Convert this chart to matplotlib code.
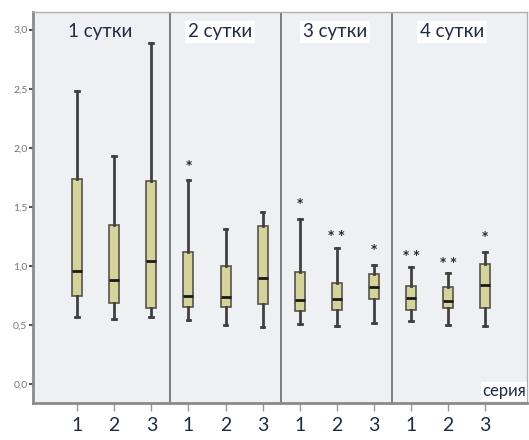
import matplotlib.pyplot as plt
import numpy as np

plt.rcParams['font.family'] = ['Lato', 'DejaVu Sans']

# день 1..4, серия 1..3
series = ['1', '2', '3'] * 4
days = ['1 сутки', '2 сутки', '3 сутки', '4 сутки']
whislo = [0.57, 0.55, 0.57, 0.54, 0.50, 0.48, 0.51, 0.49, 0.52, 0.53, 0.50, 0.49]
q1 = [0.75, 0.69, 0.64, 0.65, 0.65, 0.68, 0.62, 0.63, 0.72, 0.63, 0.64, 0.64]
med = [0.96, 0.88, 1.04, 0.75, 0.74, 0.90, 0.71, 0.72, 0.82, 0.73, 0.70, 0.84]
q3 = [1.74, 1.35, 1.72, 1.12, 1.00, 1.34, 0.95, 0.86, 0.93, 0.83, 0.82, 1.02]
whishi = [2.48, 1.93, 2.89, 1.73, 1.31, 1.46, 1.40, 1.15, 1.01, 0.99, 0.94, 1.12]
outlier_val = [None, None, None, 1.85, None, None, 1.53, 1.26, 1.14, 1.09, 1.03, 1.25]
outlier_cnt = [0, 0, 0, 1, 0, 0, 1, 2, 1, 2, 2, 1]

fig = plt.figure(figsize=(5.29, 4.40), dpi=100)
ax = fig.add_axes([0.0624, 0.084, 0.934, 0.889])
ax.set_facecolor('#eff0f3')

stats = []
for i in range(12):
    stats.append(dict(whislo=whislo[i], q1=q1[i], med=med[i], q3=q3[i],
                      whishi=whishi[i], fliers=[]))
pos = np.arange(1, 13)
ax.bxp(stats, positions=pos, widths=0.27, patch_artist=True, showfliers=False,
       boxprops=dict(facecolor='#d6d29c', edgecolor='#555548', linewidth=1.2),
       medianprops=dict(color='#1a1a1a', linewidth=2),
       whiskerprops=dict(color='#404040', linewidth=2),
       capprops=dict(color='#404040', linewidth=2), capwidths=0.1)

for i in range(12):
    if outlier_cnt[i]:
        ax.text(pos[i], outlier_val[i], ' '.join(['*'] * outlier_cnt[i]),
                ha='center', va='center', fontsize=8.5, color='#2a2a2a',
                family='DejaVu Sans', fontweight='bold')

for xd in [3.5, 6.5, 9.5]:
    ax.axvline(xd, color='#6a6a6a', linewidth=1.2)

title_x = [1.62, 4.85, 7.95, 11.1]
for k, d in enumerate(days):
    bb = None if k == 0 else dict(facecolor='white', edgecolor='none', pad=2)
    ax.text(title_x[k], 2.98, d, ha='center', va='center', fontsize=13.5,
            color='#1f2a44', bbox=bb)

ax.text(13.1, -0.06, 'серия', ha='right', va='center', fontsize=12,
        color='#1f2a44', bbox=dict(facecolor='white', edgecolor='none', pad=1))

ax.set_xlim(-0.19, 13.13)
ax.set_ylim(-0.16, 3.15)
ax.set_xticks(pos)
ax.set_xticklabels(series, fontsize=14, color='#1f2a44')
ax.set_yticks([0, 0.5, 1.0, 1.5, 2.0, 2.5, 3.0])
ax.set_yticklabels(['0,0', '0,5', '1,0', '1,5', '2,0', '2,5', '3,0'],
                   fontsize=7.5, color='#777777')
ax.tick_params(axis='x', length=6, width=1, color='#999999', pad=4, direction='out')
ax.tick_params(axis='y', length=3, width=1.5, color='#555555', pad=1)
for s in ['left', 'bottom']:
    ax.spines[s].set_color('#8a8a8a')
    ax.spines[s].set_linewidth(2)
for s in ['top', 'right']:
    ax.spines[s].set_color('#b0b0b0')
    ax.spines[s].set_linewidth(1)

fig.savefig('out.png', dpi=100)
